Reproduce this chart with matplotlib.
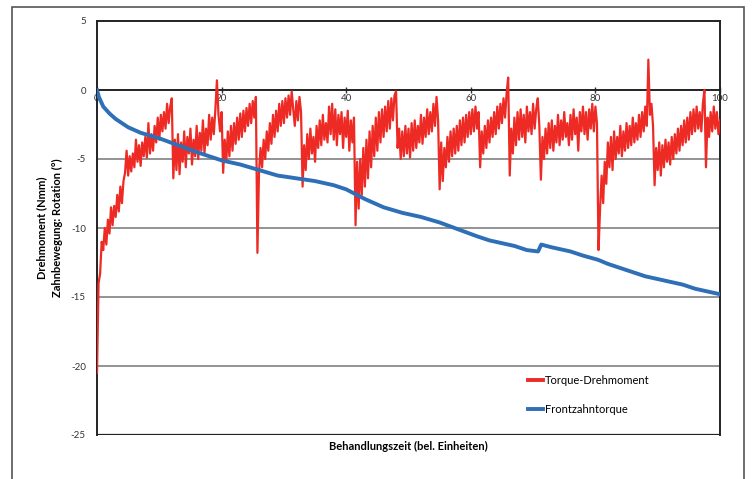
import numpy as np
import matplotlib
matplotlib.use("Agg")
import matplotlib.pyplot as plt
from matplotlib.patches import Rectangle

# ---------------- data ----------------
# Torque-Drehmoment, sampled every 0.25 time units (one row = one time unit)
red_torque = [
    -20.5, -14.0, -13.3, -11.0,   # 0
    -11.6, -10.0, -11.2, -9.4,    # 1
    -10.4, -8.5, -9.8, -8.4,      # 2
    -9.2, -7.6, -8.8, -7.0,       # 3
    -8.2, -6.6, -6.0, -4.4,       # 4
    -6.2, -4.8, -5.9, -4.6,       # 5
    -5.6, -3.6, -5.2, -4.0,       # 6
    -5.5, -3.8, -4.8, -3.4,       # 7
    -4.9, -2.4, -4.6, -3.2,       # 8
    -4.4, -2.6, -3.8, -2.0,       # 9
    -3.6, -1.8, -3.0, -1.6,       # 10
    -2.8, -1.0, -2.4, -1.2,       # 11
    -0.6, -6.4, -3.6, -5.8,       # 12
    -3.2, -6.1, -3.8, -5.2,       # 13
    -3.0, -5.6, -3.4, -4.6,       # 14
    -2.8, -5.4, -3.6, -4.8,       # 15
    -2.6, -5.0, -3.1, -4.4,       # 16
    -2.2, -4.6, -2.8, -4.0,       # 17
    -1.8, -3.6, -2.0, -3.2,       # 18
    -1.4, 0.7, -1.8, -3.0,        # 19
    -1.6, -6.0, -3.6, -5.2,       # 20
    -3.0, -4.8, -2.6, -4.4,       # 21
    -2.4, -3.9, -2.0, -3.6,       # 22
    -1.7, -3.4, -1.5, -3.0,       # 23
    -1.3, -2.6, -1.0, -2.4,       # 24
    -0.8, -2.0, -0.5, -11.8,      # 25
    -6.0, -4.2, -5.6, -3.6,       # 26
    -5.0, -3.0, -4.4, -2.4,       # 27
    -3.9, -1.8, -3.4, -1.5,       # 28
    -3.0, -1.0, -2.6, -0.8,       # 29
    -2.4, -0.6, -2.0, -0.4,       # 30
    -1.8, -0.1, -1.4, -2.6,       # 31
    -0.8, -2.2, -0.5, -1.6,       # 32
    -7.0, -4.0, -5.8, -3.2,       # 33
    -5.0, -2.8, -4.6, -3.4,       # 34
    -5.2, -2.6, -4.2, -2.2,       # 35
    -4.0, -1.8, -3.6, -2.4,       # 36
    -3.8, -1.2, -3.2, -1.0,       # 37
    -3.6, -1.4, -4.0, -1.8,       # 38
    -3.2, -1.6, -4.2, -2.0,       # 39
    -3.4, -1.5, -4.4, -2.2,       # 40
    -3.8, -2.0, -9.8, -5.2,       # 41
    -8.6, -5.0, -7.6, -4.2,       # 42
    -7.0, -3.6, -6.4, -3.0,       # 43
    -5.6, -2.6, -4.8, -2.0,       # 44
    -4.4, -1.6, -3.8, -1.4,       # 45
    -3.4, -1.2, -3.0, -0.8,       # 46
    -2.8, -0.6, -2.2, -0.4,       # 47
    -0.1, -4.2, -2.8, -5.0,       # 48
    -3.0, -4.8, -2.6, -4.6,       # 49
    -2.8, -4.9, -2.4, -4.4,       # 50
    -2.2, -4.2, -2.6, -3.8,       # 51
    -1.8, -3.9, -2.0, -3.4,       # 52
    -1.4, -3.2, -1.6, -3.0,       # 53
    -1.0, -2.6, -0.5, -2.2,       # 54
    -7.2, -3.8, -6.6, -4.2,       # 55
    -5.6, -3.4, -5.2, -3.0,       # 56
    -4.8, -2.8, -4.6, -2.6,       # 57
    -4.4, -2.2, -4.0, -2.0,       # 58
    -3.8, -1.8, -3.4, -1.6,       # 59
    -3.2, -1.4, -3.0, -1.2,       # 60
    -2.8, -1.6, -5.6, -3.0,       # 61
    -4.6, -2.6, -4.2, -2.2,       # 62
    -3.8, -2.0, -3.4, -1.6,       # 63
    -3.2, -1.2, -2.8, -1.0,       # 64
    -2.4, -0.6, -2.0, -0.2,       # 65
    0.9, -6.2, -2.8, -4.6,        # 66
    -2.0, -4.0, -1.6, -3.6,       # 67
    -1.4, -3.4, -1.8, -3.8,       # 68
    -1.2, -3.0, -1.6, -3.2,       # 69
    -1.0, -2.8, -1.4, -0.6,       # 70
    -2.6, -6.5, -3.4, -5.0,       # 71
    -2.8, -4.6, -2.4, -4.2,       # 72
    -2.2, -4.4, -2.6, -3.8,       # 73
    -1.8, -4.0, -2.2, -3.6,       # 74
    -1.6, -3.4, -2.4, -4.0,       # 75
    -1.8, -3.6, -1.4, -3.2,       # 76
    -2.0, -4.4, -1.6, -3.0,       # 77
    -1.2, -3.2, -1.6, -3.6,       # 78
    -1.4, -2.8, -1.0, -3.0,       # 79
    -1.2, -2.4, -11.6, -8.6,      # 80
    -6.2, -8.2, -5.2, -6.8,       # 81
    -3.8, -5.6, -3.4, -5.8,       # 82
    -3.0, -5.0, -3.4, -4.6,       # 83
    -2.6, -4.8, -3.0, -4.4,       # 84
    -2.4, -4.2, -2.6, -4.0,       # 85
    -2.0, -3.8, -2.4, -3.6,       # 86
    -1.8, -3.4, -1.6, -3.0,       # 87
    -1.2, -2.6, 2.2, -1.8,        # 88
    -1.0, -2.6, -6.9, -4.2,       # 89
    -5.8, -3.8, -6.2, -4.0,       # 90
    -5.6, -3.6, -5.2, -3.8,       # 91
    -5.4, -3.4, -5.0, -3.2,       # 92
    -4.6, -2.8, -4.4, -2.6,       # 93
    -4.0, -2.2, -3.8, -2.0,       # 94
    -3.6, -1.6, -3.2, -1.4,       # 95
    -3.0, -1.2, -2.8, -1.6,       # 96
    -3.0, -1.0, 0.0, -5.6,        # 97
    -2.0, -3.4, -1.6, -3.0,       # 98
    -1.2, -2.8, -1.6, -3.2,       # 99
    -2.2,                         # 100
]
red_time = np.linspace(0, 100, len(red_torque))

blue_time = [0, 0.3, 1, 2, 3, 5, 7, 10, 13, 16, 20, 23, 26, 29, 32, 35, 38, 40,
             43, 46, 49, 52, 55, 58, 61, 63, 65, 67, 69, 70.8, 71.3, 73, 76, 78,
             80.4, 82, 84, 86, 88, 90, 92, 94, 96, 98, 100]
blue_rot = [0, -0.5, -1.2, -1.7, -2.1, -2.7, -3.1, -3.5, -4.0, -4.5, -5.1, -5.4,
            -5.8, -6.2, -6.4, -6.6, -6.9, -7.2, -7.9, -8.5, -8.9, -9.2, -9.6,
            -10.1, -10.6, -10.9, -11.1, -11.3, -11.6, -11.7, -11.2, -11.4, -11.7,
            -12.0, -12.3, -12.6, -12.9, -13.2, -13.5, -13.7, -13.9, -14.1, -14.4,
            -14.6, -14.8]

x_ticks = [0, 20, 40, 60, 80, 100]
y_ticks = [5, 0, -5, -10, -15, -20, -25]

plt.rcParams['font.family'] = ['Lato', 'DejaVu Sans']

fig = plt.figure(figsize=(7.54, 4.79), dpi=100)
ax = fig.add_axes([97/754, 1-435/479, (720-97)/754, (435-21)/479])

# outer frame
fig.patches.append(Rectangle((12/754, -0.05), (744-12)/754, 1.05 - 7/479,
                             transform=fig.transFigure, fill=False,
                             edgecolor='#555555', linewidth=1.2))

ax.set_xlim(0, 100)
ax.set_ylim(-25, 5)

for g in [-5, -10, -15, -20]:
    ax.axhline(g, color='#8a8a8a', linewidth=1.3, zorder=1)
ax.axhline(-25, color='#222222', linewidth=1.6, zorder=1)

ax.plot(red_time, red_torque, color='#ee2a24', linewidth=1.6,
        label='Torque-Drehmoment', zorder=3)
ax.plot(blue_time, blue_rot, color='#2e6fb7', linewidth=2.8,
        label='Frontzahntorque', zorder=4)

for s in ['top', 'right', 'left']:
    ax.spines[s].set_color('#222222')
    ax.spines[s].set_linewidth(1.4)
ax.spines['bottom'].set_position(('data', 0))
ax.spines['bottom'].set_color('#222222')
ax.spines['bottom'].set_linewidth(1.4)
ax.spines['bottom'].set_zorder(2)

ax.set_xticks(x_ticks)
ax.set_xticklabels([str(v) for v in x_ticks])
ax.set_yticks(y_ticks)
ax.set_yticklabels([str(v) for v in y_ticks])
ax.tick_params(axis='x', direction='inout', length=4, width=1, pad=1,
               labelsize=7, colors='#333333')
ax.tick_params(axis='y', length=0, pad=8, labelsize=7, colors='#333333')

ax.set_ylabel('Drehmoment (Nmm)\nZahnbewegung: Rotation (°)', fontsize=8,
              fontweight='bold', labelpad=6, linespacing=1.5)
fig.text(408/754, 1-446/479, 'Behandlungszeit (bel. Einheiten)', fontsize=8,
         fontweight='bold', ha='center', va='center')

leg = ax.legend(loc='lower left', bbox_to_anchor=(0.675, 0.025), frameon=False,
                fontsize=8, handlelength=1.4, handletextpad=0.2, labelspacing=1.6)
for h in leg.get_lines():
    h.set_linewidth(2.8)

fig.savefig('out.png', dpi=100)
